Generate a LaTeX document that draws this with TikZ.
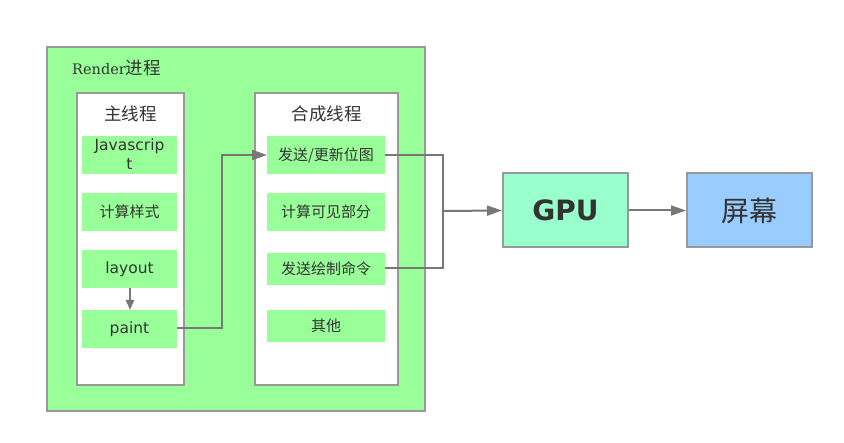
\documentclass[tikz,border=0pt]{standalone}
\usepackage{fontspec}
\setmainfont{DejaVu Sans}
\newfontfamily\cjk{Noto Sans CJK SC}
\newfontfamily\serifr{DejaVu Serif}
\usetikzlibrary{arrows.meta}
\definecolor{bgreen}{HTML}{99FF99}
\definecolor{gpucol}{HTML}{99FFCC}
\definecolor{scrcol}{HTML}{99CCFF}
\definecolor{bordc}{HTML}{999999}
\definecolor{linec}{HTML}{777777}
\definecolor{txtc}{HTML}{333333}
\tikzset{
  panel/.style={draw=bordc, line width=2pt, fill=white},
  item/.style={fill=bgreen, draw=none, text=txtc},
  bigbox/.style={draw=bordc, line width=2pt, text=txtc},
  conn/.style={draw=linec, line width=2pt},
  tip/.style={-{Triangle[length=15pt,width=10pt]}},
  smalltip/.style={-{Triangle[length=10pt,width=8pt]}},
  cjkitem/.style={text=txtc, font=\cjk\fontsize{15pt}{17pt}\selectfont},
  latitem/.style={text=txtc, font=\fontsize{15.5pt}{19pt}\selectfont},
  ttl/.style={text=txtc, font=\cjk\fontsize{17.5pt}{20pt}\selectfont},
}
\begin{document}
\begin{tikzpicture}[x=1pt,y=-1pt]
\useasboundingbox (0,0) rectangle (844,443);
% outer render box
\draw[draw=bordc, line width=2pt, fill=bgreen] (47,47) rectangle (425,411);
\node[anchor=base west, text=txtc, inner sep=0pt] (rtitle) at (72,75) {{\serifr\fontsize{14.5pt}{17pt}\selectfont Render}{\cjk\fontsize{17.5pt}{20pt}\selectfont 进程}};
% main thread panel
\draw[panel] (77,93) rectangle (184,385);
\node[ttl] (mt) at (130.5,114) {主线程};
% composite panel
\draw[panel] (255,93) rectangle (398,385);
\node[ttl] (ct) at (326.5,114) {合成线程};
% main items
\path[item] (82,136) rectangle (177,174);
\node[latitem, align=center] (js) at (129.5,154.5) {Javascrip\\t};
\path[item] (82,193) rectangle (177,231);
\node[cjkitem] (style) at (129.5,212) {计算样式};
\path[item] (82,250) rectangle (177,288);
\node[latitem] (layout) at (129.5,269) {layout};
\path[item] (82,310) rectangle (177,348);
\node[latitem] (paint) at (129.5,329) {paint};
\coordinate (layoutb) at (130,288);
\coordinate (paintt) at (130,310);
\coordinate (paintr) at (177,328);
% composite items
\path[item] (267,136) rectangle (385,174);
\node[cjkitem] (send) at (326,155) {发送/更新位图};
\path[item] (267,193) rectangle (385,231);
\node[cjkitem] (vis) at (326,212) {计算可见部分};
\path[item] (267,253) rectangle (385,285);
\node[cjkitem] (cmd) at (326,269) {发送绘制命令};
\path[item] (267,310) rectangle (385,342);
\node[cjkitem] (other) at (326,326) {其他};
\coordinate (sendl) at (267,155);
\coordinate (sendr) at (385,155);
\coordinate (cmdr) at (385,268);
\coordinate (join) at (443,211);
% GPU and screen
\node[bigbox, fill=gpucol, minimum width=125pt, minimum height=74pt, font=\bfseries\fontsize{28pt}{32pt}\selectfont] (gpu) at (565.5,210.5) {GPU};
\node[bigbox, fill=scrcol, minimum width=125pt, minimum height=74pt, font=\cjk\fontsize{28pt}{32pt}\selectfont] (scr) at (749.5,210.5) {屏幕};
% connectors
\draw[conn, smalltip] (layoutb) -- (paintt);
\draw[conn, tip] (paintr) -- (222,328) -- (222,155) -- (sendl);
\draw[conn] (sendr) -- (443,155) -- (443,268) -- (cmdr);
\draw[conn, tip] (join) -- (gpu.west);
\draw[conn, tip] (gpu.east) -- (scr.west);
\end{tikzpicture}
\end{document}
